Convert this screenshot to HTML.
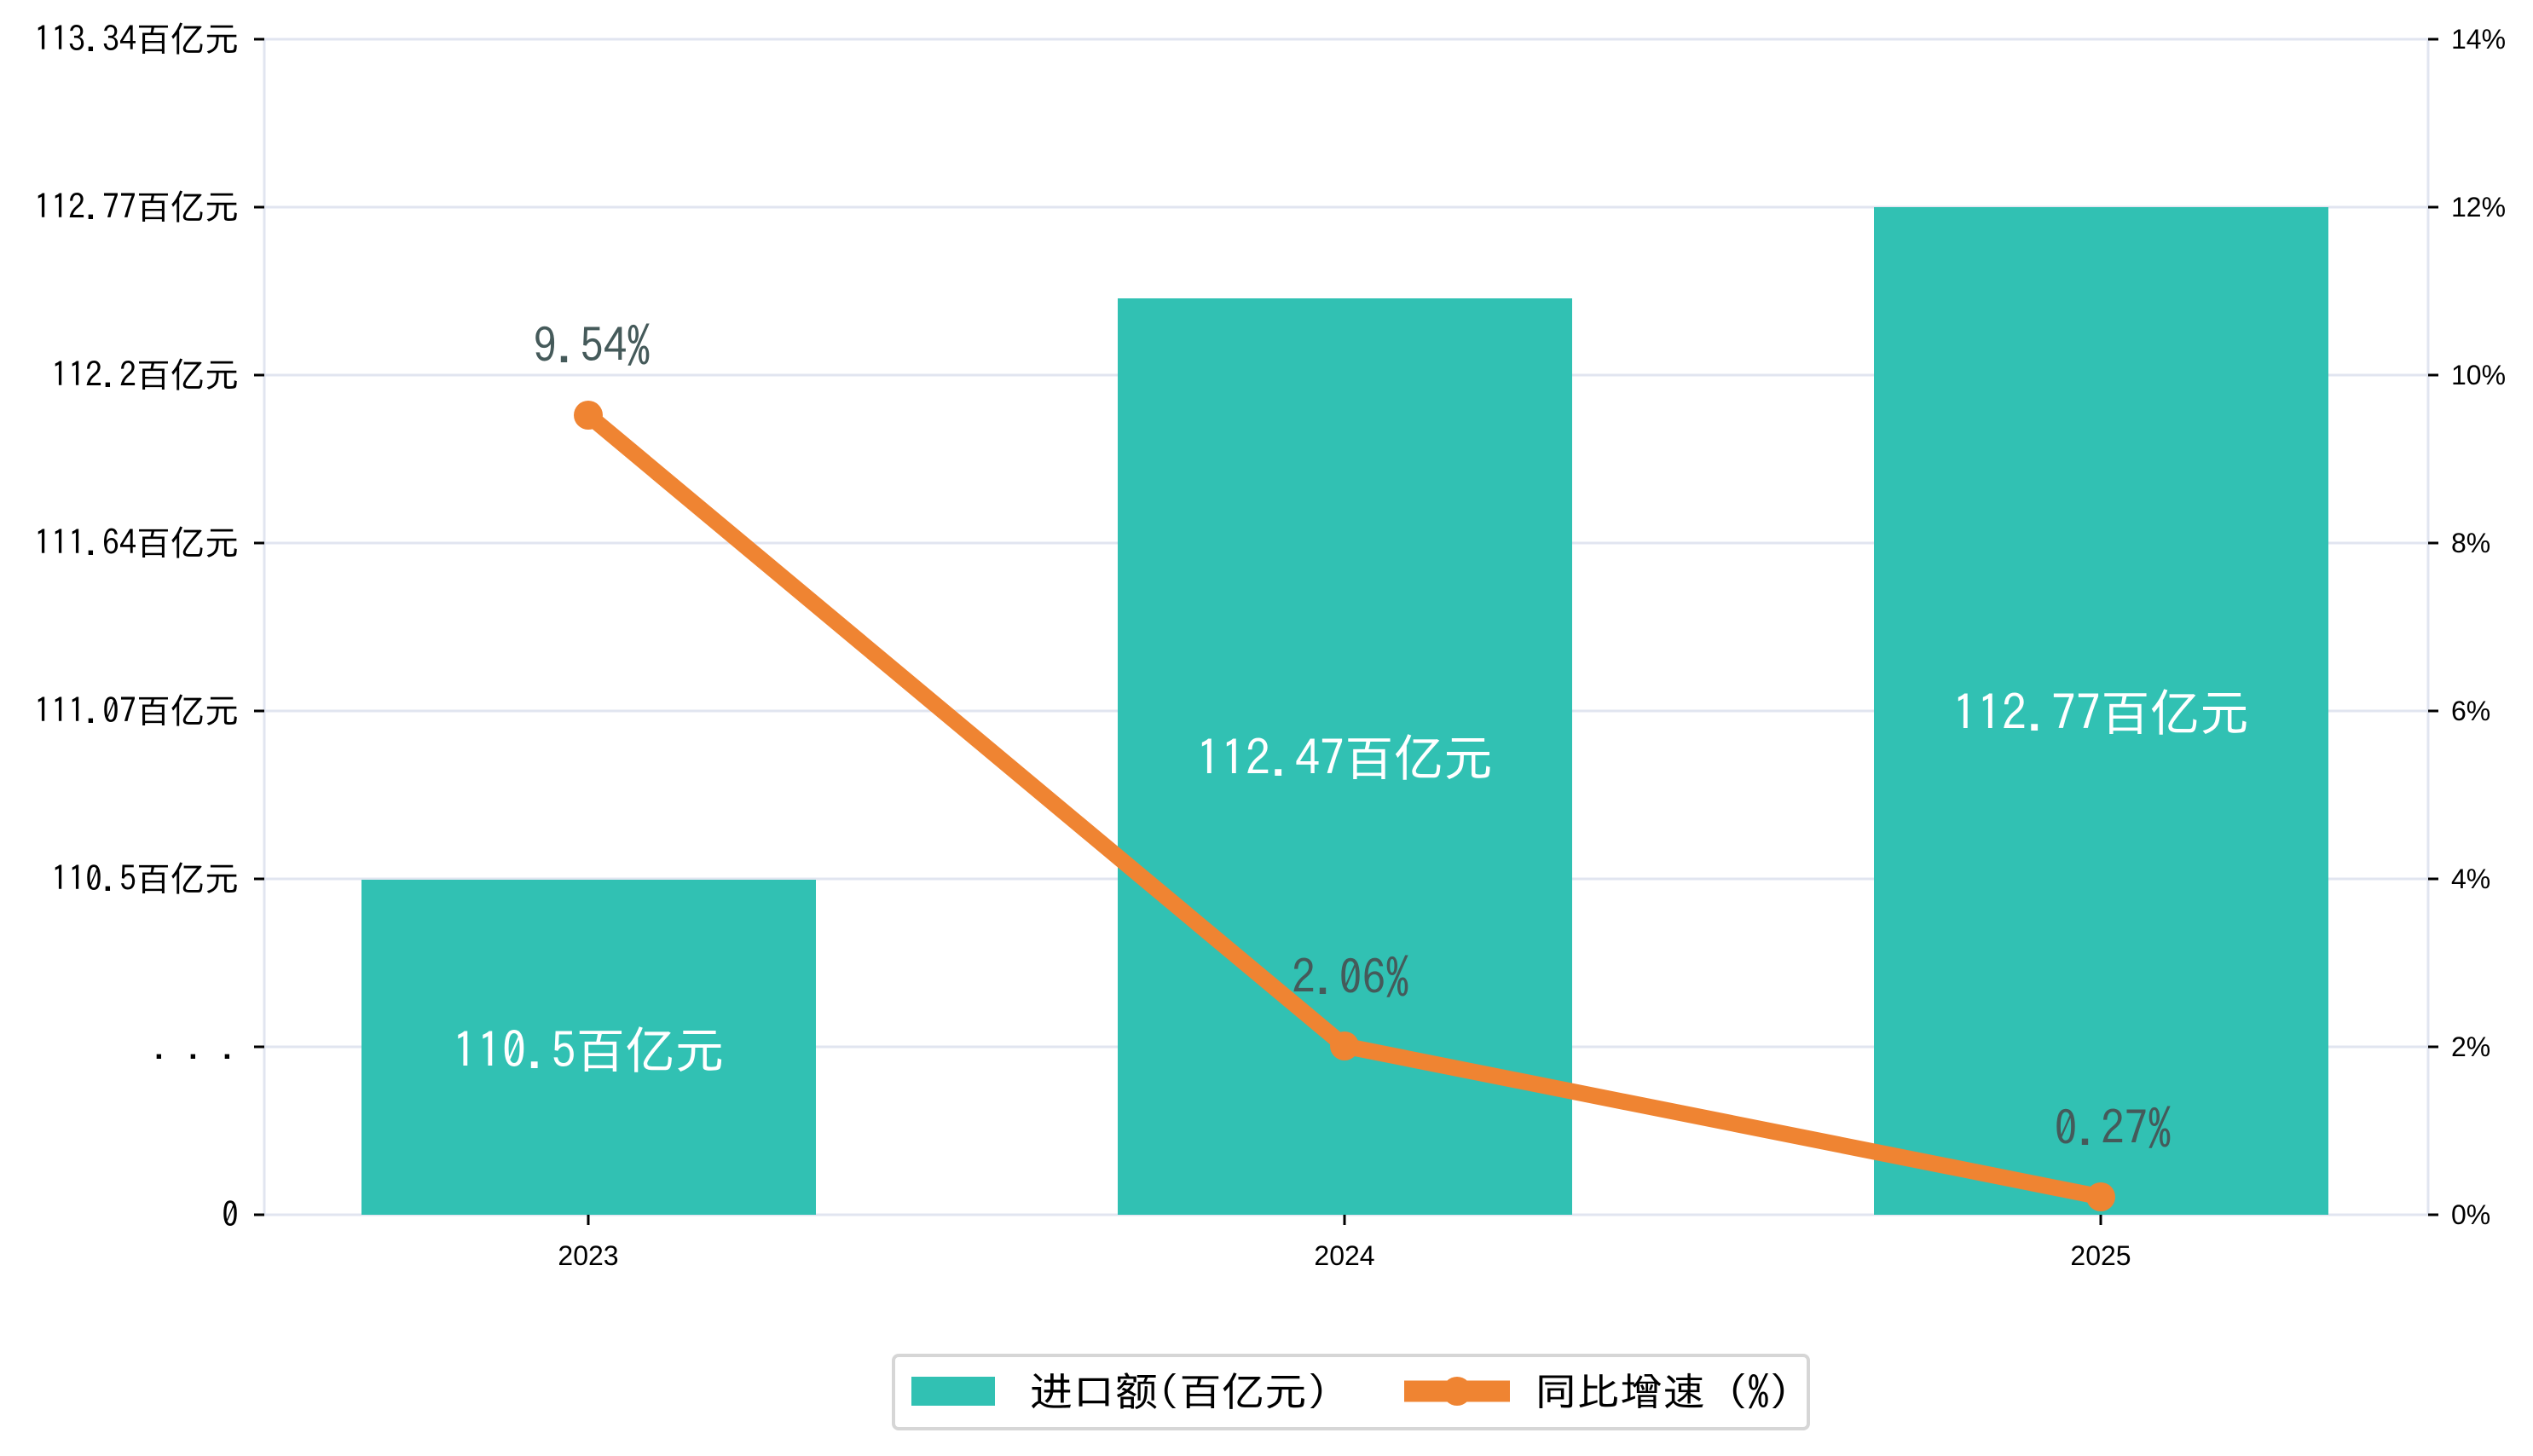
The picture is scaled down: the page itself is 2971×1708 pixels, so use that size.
<!DOCTYPE html>
<html><head><meta charset="utf-8"><style>
html,body{margin:0;padding:0;background:#fff;}
svg text{font-family:"IPAGothic","WenQuanYi Zen Hei","Noto Sans CJK SC",sans-serif;}
svg text.ls{font-family:"Liberation Sans",sans-serif;}
</style></head><body>
<svg width="2971" height="1703" viewBox="0 0 2971 1703" xmlns="http://www.w3.org/2000/svg">
<g stroke="#e1e5f0" stroke-width="3">
<line x1="310" y1="46" x2="2848" y2="46"/>
<line x1="310" y1="243" x2="2848" y2="243"/>
<line x1="310" y1="440" x2="2848" y2="440"/>
<line x1="310" y1="637" x2="2848" y2="637"/>
<line x1="310" y1="834" x2="2848" y2="834"/>
<line x1="310" y1="1031" x2="2848" y2="1031"/>
<line x1="310" y1="1228" x2="2848" y2="1228"/>
<line x1="310" y1="1425" x2="2848" y2="1425"/>
<line x1="310" y1="46" x2="310" y2="1425"/>
<line x1="2848" y1="46" x2="2848" y2="1425"/>
</g>
<g fill="#31c1b3">
<rect x="424" y="1032" width="533" height="393"/>
<rect x="1311" y="350" width="533" height="1075"/>
<rect x="2198" y="243" width="533" height="1182"/>
</g>
<g stroke="#000" stroke-width="3">
<line x1="298" y1="46" x2="310" y2="46"/><line x1="298" y1="243" x2="310" y2="243"/>
<line x1="298" y1="440" x2="310" y2="440"/><line x1="298" y1="637" x2="310" y2="637"/>
<line x1="298" y1="834" x2="310" y2="834"/><line x1="298" y1="1031" x2="310" y2="1031"/>
<line x1="298" y1="1228" x2="310" y2="1228"/><line x1="298" y1="1425" x2="310" y2="1425"/>
<line x1="2848" y1="46" x2="2860" y2="46"/><line x1="2848" y1="243" x2="2860" y2="243"/>
<line x1="2848" y1="440" x2="2860" y2="440"/><line x1="2848" y1="637" x2="2860" y2="637"/>
<line x1="2848" y1="834" x2="2860" y2="834"/><line x1="2848" y1="1031" x2="2860" y2="1031"/>
<line x1="2848" y1="1228" x2="2860" y2="1228"/><line x1="2848" y1="1425" x2="2860" y2="1425"/>
<line x1="690" y1="1425" x2="690" y2="1437"/><line x1="1577" y1="1425" x2="1577" y2="1437"/><line x1="2464" y1="1425" x2="2464" y2="1437"/>
</g>
<g font-size="40" text-anchor="end" fill="#000">
<text x="280" y="60">113.34百亿元</text>
<text x="280" y="257">112.77百亿元</text>
<text x="280" y="454">112.2百亿元</text>
<text x="280" y="651">111.64百亿元</text>
<text x="280" y="848">111.07百亿元</text>
<text x="280" y="1045">110.5百亿元</text>
<text x="280" y="1242">. . .</text>
<text x="280" y="1439">0</text>
</g>
<g font-size="32" fill="#000">
<text class="ls" x="2875" y="57">14%</text><text class="ls" x="2875" y="254">12%</text>
<text class="ls" x="2875" y="451">10%</text><text class="ls" x="2875" y="648">8%</text>
<text class="ls" x="2875" y="845">6%</text><text class="ls" x="2875" y="1042">4%</text>
<text class="ls" x="2875" y="1239">2%</text><text class="ls" x="2875" y="1436">0%</text>
</g>
<g font-size="32" text-anchor="middle" fill="#000">
<text class="ls" x="690" y="1484">2023</text><text class="ls" x="1577" y="1484">2024</text><text class="ls" x="2464" y="1484">2025</text>
</g>
<g font-size="58" text-anchor="middle" fill="#fff">
<text x="690" y="1253">110.5百亿元</text>
<text x="1577" y="910">112.47百亿元</text>
<text x="2464" y="857">112.77百亿元</text>
</g>
<polyline points="690,487 1577,1227 2464,1404" fill="none" stroke="#ef8432" stroke-width="19" stroke-linejoin="round"/>
<g fill="#ef8432"><circle cx="690" cy="487" r="17"/><circle cx="1577" cy="1227" r="17"/><circle cx="2464" cy="1404" r="17"/></g>
<g font-size="55" text-anchor="middle" fill="#455a5a">
<text x="694" y="425">9.54%</text>
<text x="1584" y="1166">2.06%</text>
<text x="2478" y="1343">0.27%</text>
</g>
<rect x="1048" y="1590" width="1073" height="86" rx="6" fill="#fff" stroke="#d6d6d6" stroke-width="4"/>
<rect x="1069" y="1615" width="98" height="34" fill="#31c1b3"/>
<line x1="1647" y1="1632" x2="1771" y2="1632" stroke="#ef8432" stroke-width="25"/>
<circle cx="1709" cy="1632" r="17" fill="#ef8432"/>
<g font-size="46" fill="#000">
<text x="1208" y="1649" textLength="350" lengthAdjust="spacingAndGlyphs">进口额(百亿元)</text>
<text x="1800" y="1649" textLength="300" lengthAdjust="spacingAndGlyphs">同比增速 (%)</text>
</g>
</svg>
</body></html>
